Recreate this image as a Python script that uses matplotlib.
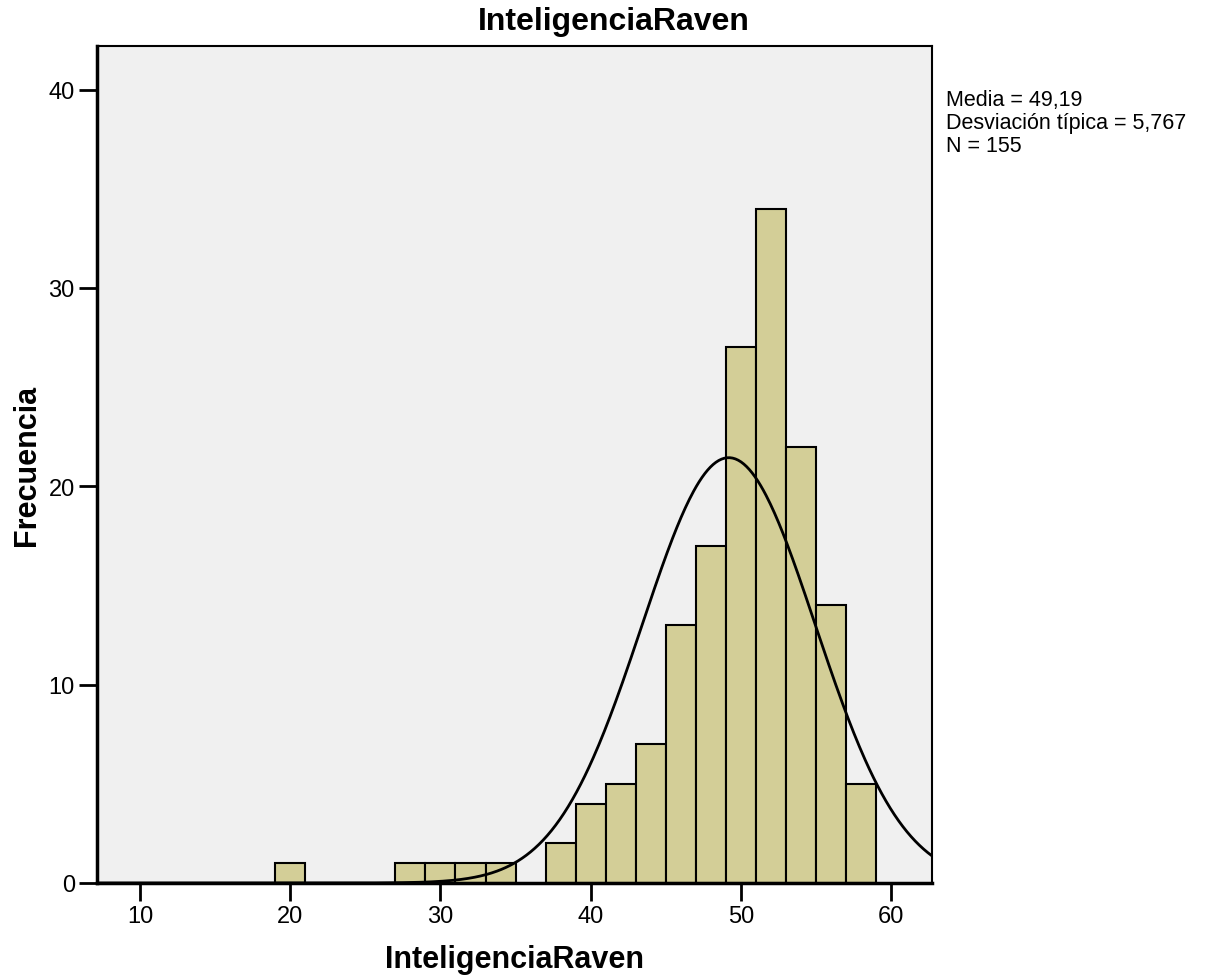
import numpy as np
import matplotlib
matplotlib.use("Agg")
import matplotlib.pyplot as plt

plt.rcParams['font.family'] = ['Liberation Sans', 'DejaVu Sans']

bin_left = [19, 27, 29, 31, 33, 37, 39, 41, 43, 45, 47, 49, 51, 53, 55, 57]
counts = [1, 1, 1, 1, 1, 2, 4, 5, 7, 13, 17, 27, 34, 22, 14, 5]
bin_width = 2
mean = 49.19
sd = 5.767
n = 155
x_ticks = [10, 20, 30, 40, 50, 60]
y_ticks = [0, 10, 20, 30, 40]

W, H = 1205, 979
fig = plt.figure(figsize=(W/100, H/100), dpi=100)
ax = fig.add_axes([97/W, 1-884/H, (932-97)/W, (884-47)/H])
ax.set_facecolor('#f0f0f0')

ax.bar(bin_left, counts, width=bin_width, align='edge', color='#d3ce97',
       edgecolor='black', linewidth=1.5, zorder=2)

xmin, xmax = 7.14, 62.72
xs = np.linspace(xmin, xmax, 600)
ys = n * bin_width * np.exp(-0.5 * ((xs - mean) / sd) ** 2) / (sd * np.sqrt(2 * np.pi))
ax.plot(xs, ys, color='black', linewidth=2, zorder=3)

ax.set_xlim(xmin, xmax)
ax.set_ylim(0, 42.2)
ax.set_xticks(x_ticks)
ax.set_yticks(y_ticks)
ax.tick_params(axis='both', direction='out', length=13, width=2, labelsize=17, pad=3)
for s in ax.spines.values():
    s.set_linewidth(1.5)
ax.spines['bottom'].set_linewidth(2.5)
ax.spines['left'].set_linewidth(2.5)

fig.text(614/W, 1-22/H, 'InteligenciaRaven', fontsize=23, fontweight='bold',
         ha='center', va='center')
ax.set_xlabel('InteligenciaRaven', fontsize=22, fontweight='bold')
ax.set_ylabel('Frecuencia', fontsize=22, fontweight='bold')
ax.xaxis.set_label_coords(0.5, -(960-884)/(884-47), transform=ax.transAxes)
ax.xaxis.label.set_va('center')
ax.yaxis.set_label_coords(-(97-27)/(932-97), 0.5, transform=ax.transAxes)
ax.yaxis.label.set_va('center')

fig.text(946/W, 1-90/H,
         'Media = 49,19\nDesviación típica = 5,767\nN = 155',
         fontsize=15.5, va='top', ha='left', linespacing=1.12)

fig.savefig('out.png', dpi=100)
